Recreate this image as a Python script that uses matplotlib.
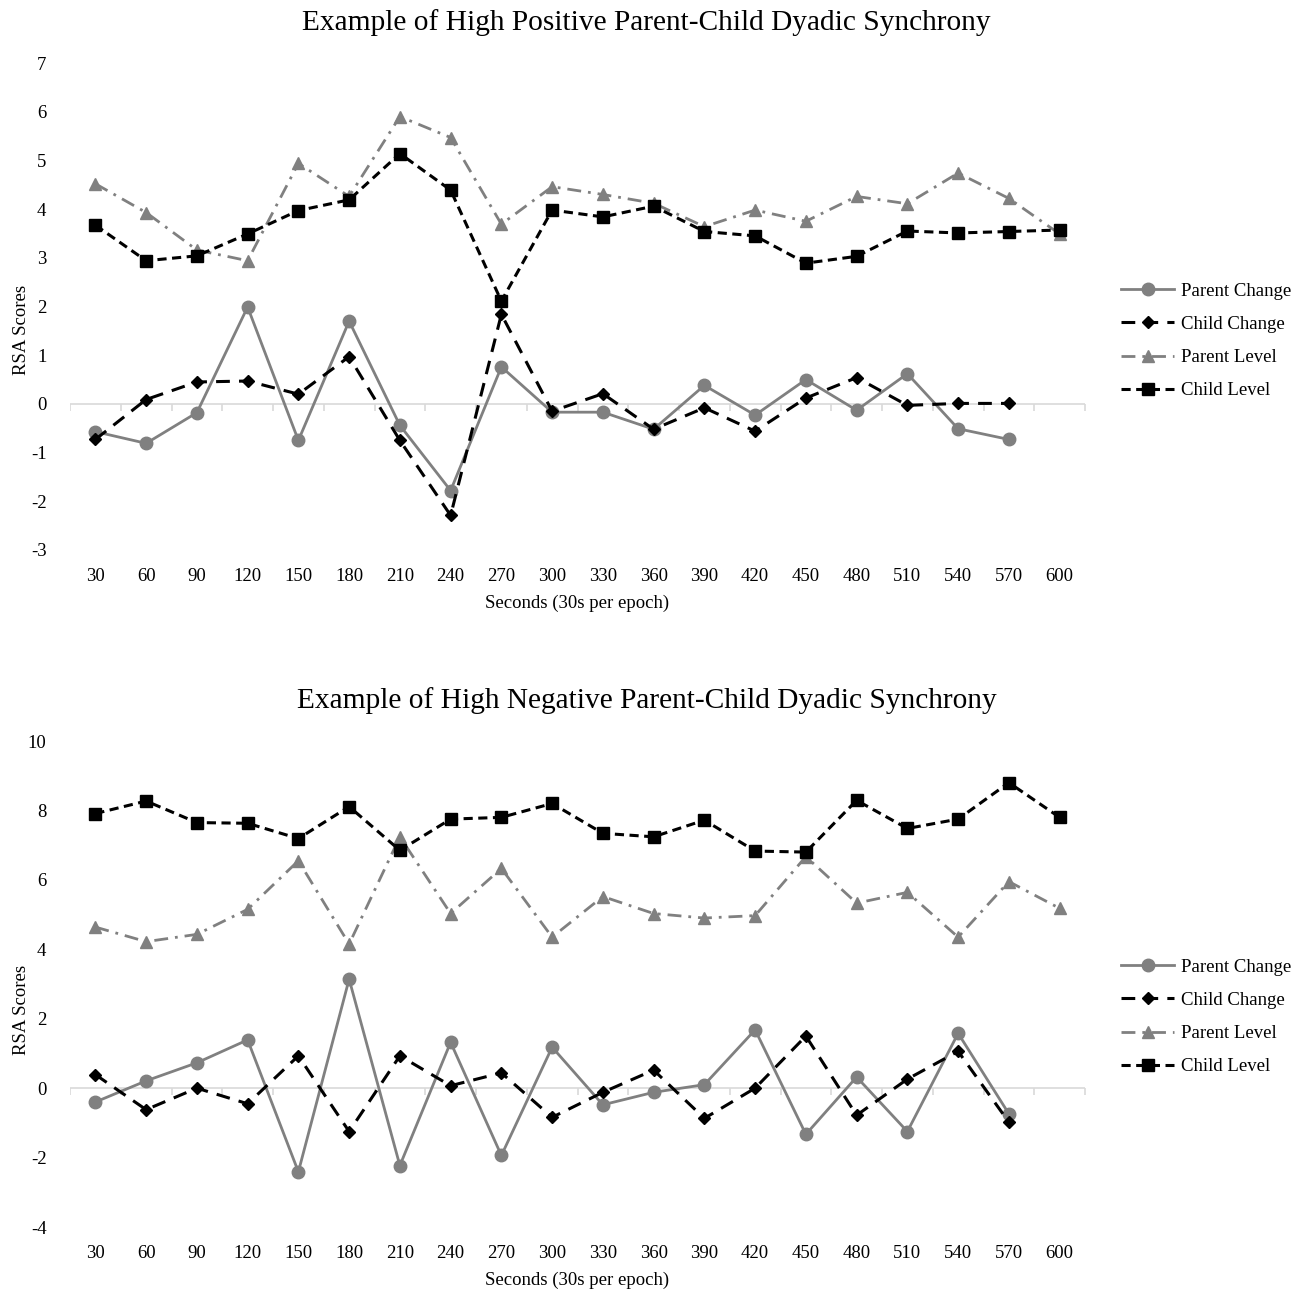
import matplotlib.pyplot as plt

plt.rcParams['font.family'] = ['Liberation Serif', 'DejaVu Serif']
plt.rcParams['axes.unicode_minus'] = False

# epochs (seconds)
seconds = [30, 60, 90, 120, 150, 180, 210, 240, 270, 300,
           330, 360, 390, 420, 450, 480, 510, 540, 570, 600]
change_seconds = seconds[:19]

# top chart: high positive synchrony
pos_parent_change = [-0.57, -0.81, -0.18, 1.99, -0.75, 1.70, -0.44, -1.78, 0.76, -0.17,
                     -0.17, -0.52, 0.38, -0.23, 0.50, -0.13, 0.62, -0.51, -0.73]
pos_child_change = [-0.73, 0.09, 0.45, 0.47, 0.20, 0.97, -0.75, -2.29, 1.84, -0.15,
                    0.21, -0.52, -0.08, -0.56, 0.12, 0.54, -0.03, 0.01, 0.01]
pos_parent_level = [4.52, 3.93, 3.16, 2.94, 4.94, 4.26, 5.90, 5.47, 3.69, 4.46,
                    4.30, 4.12, 3.64, 3.98, 3.75, 4.26, 4.11, 4.74, 4.22, 3.49]
pos_child_level = [3.67, 2.94, 3.04, 3.49, 3.97, 4.19, 5.14, 4.39, 2.11, 3.98,
                   3.84, 4.06, 3.54, 3.45, 2.89, 3.03, 3.55, 3.51, 3.54, 3.57]

# bottom chart: high negative synchrony
neg_parent_change = [-0.40, 0.21, 0.73, 1.39, -2.41, 3.14, -2.23, 1.32, -1.94, 1.18,
                     -0.48, -0.12, 0.10, 1.68, -1.33, 0.32, -1.25, 1.58, -0.74]
neg_child_change = [0.39, -0.62, 0.00, -0.45, 0.93, -1.25, 0.93, 0.07, 0.44, -0.84,
                    -0.12, 0.52, -0.87, 0.00, 1.50, -0.78, 0.26, 1.06, -0.98]
neg_parent_level = [4.64, 4.22, 4.43, 5.15, 6.55, 4.15, 7.24, 5.03, 6.33, 4.35,
                    5.52, 5.03, 4.90, 4.97, 6.67, 5.33, 5.64, 4.35, 5.95, 5.18]
neg_child_level = [7.91, 8.27, 7.65, 7.63, 7.19, 8.11, 6.85, 7.75, 7.80, 8.20,
                   7.34, 7.24, 7.72, 6.83, 6.80, 8.29, 7.48, 7.75, 8.80, 7.80]

grey = '#808080'
W, H = 1304, 1292


def draw_panel(rect, title, title_y, ylab_y, leg_y, ylim, yticks, data):
    ax = fig.add_axes(rect)
    pc, cc, pl, cl = data
    ax.plot(change_seconds, pc, color=grey, lw=2.0, marker='o', ms=9,
            label='Parent Change', zorder=3)
    ax.plot(change_seconds, cc, color='black', lw=2.2, ls=(0, (4.5, 3)), marker='D',
            ms=6.5, label='Child Change', zorder=4)
    ax.plot(seconds, pl, color=grey, lw=2.0, ls=(0, (5, 2.5, 1, 2.5)), marker='^',
            ms=9, label='Parent Level', zorder=3)
    ax.plot(seconds, cl, color='black', lw=2.2, ls=(0, (3, 1.8)), marker='s',
            ms=9, label='Child Level', zorder=4)

    # category axis crossing at zero, with tick marks between categories
    bounds = [s - 15 for s in seconds] + [seconds[-1] + 15]
    ax.axhline(0, color='#d9d9d9', lw=1.2, zorder=1)
    ax.plot(bounds, [0] * len(bounds), ls='none', marker=3, ms=5,
            mec='#d9d9d9', mew=1.2, zorder=1)

    ax.set_xlim(15, 615)
    ax.set_ylim(*ylim)
    ax.set_xticks(seconds)
    ax.set_yticks(yticks)
    for s in ax.spines.values():
        s.set_visible(False)
    ax.tick_params(axis='x', length=0, pad=13, labelsize=13.5)
    ax.tick_params(axis='y', length=0, pad=17, labelsize=13.5)
    ax.set_xlabel('Seconds (30s per epoch)', fontsize=13.5, labelpad=7)

    fig.text(0.496, 1 - title_y / H, title, fontsize=21.2, ha='center', va='center')
    fig.text(22 / W, 1 - ylab_y / H, 'RSA Scores', fontsize=13.5, rotation=90,
             ha='center', va='center')
    ax.legend(loc='center left', bbox_to_anchor=(1112 / W, 1 - leg_y / H),
              bbox_transform=fig.transFigure, frameon=False, fontsize=13.5,
              handlelength=2.8, handletextpad=0.4, labelspacing=0.85,
              borderpad=0, numpoints=1)
    return ax


fig = plt.figure(figsize=(W / 100, H / 100), dpi=100)

draw_panel([70 / W, 1 - 550 / H, 1015 / W, 487 / H],
           'Example of High Positive Parent-Child Dyadic Synchrony', 23, 330, 341,
           (-3, 7), list(range(-3, 8)),
           (pos_parent_change, pos_child_change, pos_parent_level, pos_child_level))

draw_panel([70 / W, 1 - 1227 / H, 1015 / W, 486 / H],
           'Example of High Negative Parent-Child Dyadic Synchrony', 701, 1010, 1017,
           (-4, 10), list(range(-4, 11, 2)),
           (neg_parent_change, neg_child_change, neg_parent_level, neg_child_level))

fig.savefig('out.png', dpi=100)
